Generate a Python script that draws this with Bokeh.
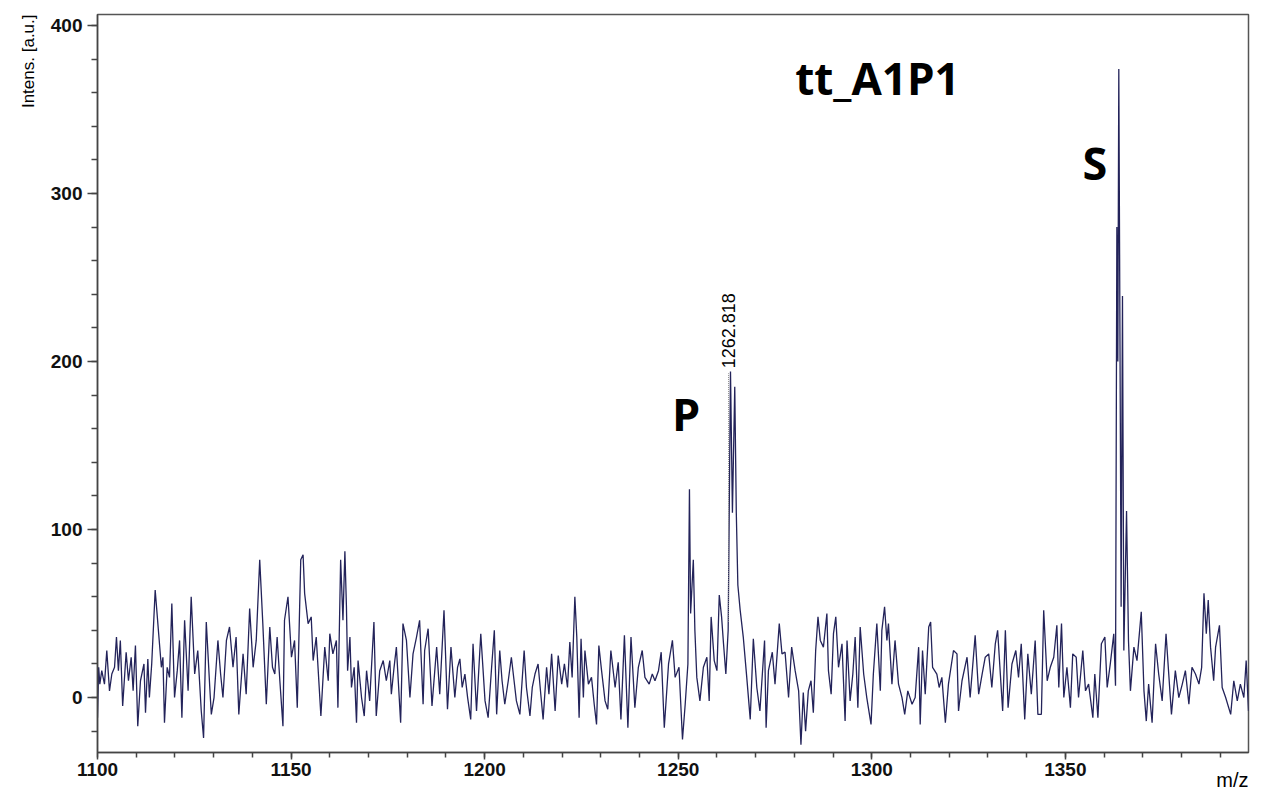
from bokeh.plotting import figure
from bokeh.models import Range1d, FixedTicker, Label, Title
from bokeh.embed import file_html
from bokeh.resources import INLINE
import math

# ---- data (m/z, intensity [a.u.]) ----
mz_a = [1100.0, 1100.3, 1100.6, 1101.1, 1101.8, 1102.4, 1103.1, 1103.7, 1104.4, 1104.9,
        1105.4, 1105.9, 1106.5, 1107.4, 1108.0, 1108.7, 1109.2, 1109.8, 1110.4, 1111.1,
        1112.0, 1112.4, 1113.0, 1113.4, 1114.0, 1114.9, 1115.8, 1116.5, 1116.9, 1117.3,
        1118.0, 1118.6, 1119.2, 1119.9, 1120.6, 1121.2, 1121.8, 1122.5, 1123.4, 1124.2,
        1125.1, 1125.9, 1126.8, 1127.4, 1128.1, 1129.0, 1129.4, 1130.1, 1131.1, 1131.8,
        1132.4, 1133.3, 1134.1, 1135.0, 1135.8, 1136.5, 1137.6, 1138.4, 1139.3, 1140.2,
        1141.0, 1141.9, 1142.7, 1143.6, 1144.5, 1145.2, 1145.8, 1146.4, 1147.1, 1147.9,
        1148.3, 1149.2, 1150.1, 1150.9, 1151.6, 1152.5, 1153.1, 1153.5, 1154.4, 1155.2,
        1155.7, 1156.5, 1157.7, 1158.7, 1159.6]
int_a = [-12, 18, 8, 16, 8, 28, 4, 14, 18, 36,
         16, 34, -5, 27, 10, 24, 4, 31, -17, 10,
         20, -9, 23, 0, 20, 64, 38, 18, 24, -15,
         18, 12, 56, 0, 16, 34, -12, 46, 4, 60,
         14, 28, -8, -24, 45, 6, -10, 0, 34, 14,
         0, 34, 42, 18, 36, -10, 26, 2, 53, 18,
         34, 82, 44, -4, 42, 18, 14, 36, 10, -17,
         46, 60, 24, 34, -6, 82, 85, 62, 44, 48,
         22, 36, -11, 30, 10]

mz_b = [1160.0, 1160.8, 1161.7, 1162.1, 1162.8, 1163.4, 1163.9, 1164.3, 1164.6, 1165.2,
        1165.6, 1166.3, 1166.9, 1167.3, 1168.2, 1168.9, 1169.5, 1170.3, 1171.4, 1172.0,
        1172.9, 1173.8, 1174.6, 1175.5, 1175.9, 1176.6, 1177.2, 1178.3, 1178.9, 1179.8,
        1180.7, 1181.5, 1182.4, 1183.2, 1184.1, 1184.5, 1185.4, 1186.4, 1187.6, 1188.4,
        1189.5, 1190.4, 1191.3, 1192.3, 1193.0, 1193.6, 1194.2, 1194.9, 1195.6, 1196.4,
        1197.0, 1197.9, 1199.0, 1200.1, 1200.9, 1201.8, 1202.5, 1203.1, 1203.9, 1204.5,
        1205.2, 1206.1, 1206.9, 1207.6, 1208.2, 1209.1, 1210.2, 1210.8, 1211.7, 1212.3,
        1213.0, 1213.8, 1214.5, 1215.1, 1216.0, 1216.6, 1217.3, 1218.2, 1219.0]
int_b = [38, 26, 34, -6, 82, 46, 87, 54, 16, 36,
         6, 18, -15, 22, 0, -11, 16, -2, 45, -11,
         16, 22, 10, 22, 2, 18, 30, -15, 44, 34,
         0, 26, 36, 46, -4, 28, 41, -5, 30, 2,
         52, -7, 30, 0, 18, 23, 6, 14, 0, -13,
         32, -8, 38, -2, -12, 18, 40, -10, 28, 10,
         -4, 10, 24, 10, -2, -10, 28, 6, -11, 6,
         14, 20, 2, -13, 18, 2, 26, -8, 25]

mz_c = [1219.9, 1220.6, 1221.4, 1222.0, 1222.6, 1223.3, 1223.8, 1224.4, 1224.9, 1225.5,
        1225.9, 1226.8, 1227.6, 1228.3, 1228.9, 1229.5, 1230.2, 1231.1, 1231.8, 1232.6,
        1233.7, 1234.5, 1235.2, 1236.1, 1237.0, 1237.8, 1238.8, 1239.7, 1240.7, 1241.4,
        1242.5, 1243.3, 1244.0, 1244.9, 1245.6, 1246.4, 1247.5, 1248.5, 1249.2, 1250.2,
        1251.1, 1251.8, 1252.5, 1252.9, 1253.2, 1253.9, 1254.3, 1254.8, 1255.6, 1256.5,
        1257.4, 1258.0, 1258.5, 1259.3, 1260.0, 1260.6, 1261.2, 1261.7, 1262.3, 1262.9,
        1263.5, 1264.0, 1264.6, 1265.0, 1265.4, 1266.0, 1266.8, 1267.7, 1268.6, 1269.4,
        1270.3, 1271.1, 1272.3, 1272.7, 1273.3, 1274.3, 1275.0, 1276.1, 1276.8, 1277.6,
        1278.5]
int_c = [8, 20, 6, 33, 12, 60, 36, -12, 35, 0,
         28, 8, 12, -4, -16, 31, 16, -2, -7, 28,
         6, 21, -13, 37, -18, 36, -6, 18, 28, 12,
         8, 14, 10, 16, 27, -18, 20, 34, 12, 18,
         -25, -4, 20, 124, 50, 82, 40, 12, -2, 18,
         24, -2, 48, 22, 16, 61, 48, 32, 14, 40,
         194, 110, 185, 110, 67, 52, 36, 12, -13, 35,
         6, -8, 34, -18, 16, 27, 8, 44, 26, 27,
         0]

mz_d = [1279.3, 1280.2, 1281.1, 1281.7, 1282.3, 1282.9, 1283.6, 1284.3, 1284.9, 1285.5,
        1286.1, 1286.7, 1287.5, 1288.4, 1288.8, 1289.5, 1290.1, 1290.7, 1291.4, 1292.3,
        1293.1, 1293.6, 1294.4, 1295.1, 1295.7, 1296.4, 1297.0, 1297.9, 1298.7, 1299.8,
        1300.4, 1301.3, 1302.2, 1302.6, 1303.3, 1303.9, 1304.3, 1305.2, 1306.0, 1306.9,
        1307.8, 1308.5, 1309.3, 1310.4, 1311.2, 1312.1, 1312.5, 1313.1, 1313.8, 1314.7,
        1315.2, 1315.7, 1316.8, 1317.4, 1318.1, 1319.0, 1319.8, 1321.1, 1322.0, 1322.4,
        1323.3, 1324.6, 1325.4, 1326.7, 1327.6, 1328.5, 1329.3, 1330.2, 1331.0, 1331.9,
        1332.5, 1333.2, 1333.8, 1334.5, 1335.2, 1336.2, 1337.2, 1337.9]
int_d = [30, 16, 4, -28, 3, -20, 4, 10, -9, 28,
         48, 34, 30, 50, 16, 2, 38, 48, 18, 32,
         -14, 34, -2, 14, 36, -6, 42, 14, 0, -16,
         14, 44, 4, 40, 54, 34, 44, 8, 34, 8,
         0, -10, 4, -4, 0, 30, -16, 28, 2, 42,
         45, 18, 14, 6, 12, -15, 8, 28, 26, -8,
         10, 24, 0, 37, 2, 14, 24, 26, 6, 32,
         40, 14, -8, 40, -6, 20, 28, 12]

mz_e = [1338.6, 1339.5, 1340.3, 1341.2, 1342.2, 1342.9, 1343.8, 1344.4, 1345.3, 1346.1,
        1347.0, 1347.8, 1348.3, 1349.0, 1349.6, 1350.4, 1351.3, 1351.9, 1352.8, 1353.4,
        1354.5, 1355.2, 1356.0, 1357.1, 1357.6, 1358.4, 1359.3, 1360.2, 1360.8, 1361.6,
        1362.5, 1362.95, 1363.3, 1363.55, 1363.8, 1364.4, 1364.75, 1365.1, 1365.8, 1366.3,
        1366.8, 1367.7, 1368.5, 1369.6, 1370.3, 1370.9, 1371.5, 1372.4, 1373.3, 1374.1,
        1375.0, 1376.0, 1376.7, 1377.4, 1378.4, 1379.3, 1380.2, 1381.0, 1381.9, 1382.7,
        1383.6, 1384.5, 1385.2, 1385.8, 1386.4, 1386.9, 1387.5, 1388.3, 1388.8, 1389.8,
        1390.5, 1391.4, 1392.7, 1393.5, 1394.4, 1395.2, 1396.1, 1396.7, 1397.3]
int_e = [32, -13, 26, 2, 34, -10, -10, 52, 10, 18,
         24, 43, 6, 44, 0, 18, -6, 26, 24, 0,
         28, 4, 8, -12, 14, -12, 32, 36, 6, 20,
         38, 7, 280, 200, 374, 54, 239, 28, 111, 34,
         4, 30, 22, 51, 4, -14, 8, -15, 32, 14,
         -2, 38, 14, -10, 16, 0, 8, 16, -4, 18,
         14, 8, 18, 62, 38, 58, 30, 10, 30, 43,
         6, 0, -10, 10, -2, 8, 0, 22, -8]

x_major = [1100, 1150, 1200, 1250, 1300, 1350]
y_major = [0, 100, 200, 300, 400]
peak_label = "1262.818"
peak_mz = 1263.0
peak_line = [45, 193]
title_text = "tt_A1P1"

mz = mz_a + mz_b + mz_c + mz_d + mz_e
inten = int_a + int_b + int_c + int_d + int_e

p = figure(width=1262, height=791, output_backend="svg", toolbar_location=None,
           x_range=Range1d(1100, 1397.3), y_range=Range1d(-32.7, 406.5),
           min_border_left=97, min_border_right=14, min_border_top=14, min_border_bottom=39)
p.background_fill_color = "white"
p.border_fill_color = "white"
p.grid.visible = False
p.outline_line_color = "#555555"
p.outline_line_width = 1.5

p.line(mz, inten, line_color="#23235a", line_width=1.3)
p.line([peak_mz, peak_mz], peak_line, line_color="#888888", line_width=1, line_dash="1 1")

for ax in (p.xaxis[0], p.yaxis[0]):
    ax.axis_line_color = "#444444"
    ax.axis_line_width = 1.5
    ax.major_tick_line_color = "#444444"
    ax.minor_tick_line_color = "#444444"
    ax.major_tick_line_width = 1.5
    ax.minor_tick_line_width = 1.5
    ax.major_tick_in = 0
    ax.minor_tick_in = 0
    ax.major_label_text_font = "Liberation Sans"
    ax.major_label_text_font_size = "19px"
    ax.major_label_text_font_style = "bold"
    ax.major_label_text_color = "#111111"

p.xaxis.ticker = FixedTicker(ticks=x_major, minor_ticks=list(range(1100, 1400, 10)))
p.yaxis.ticker = FixedTicker(ticks=y_major, minor_ticks=list(range(-20, 420, 20)))
p.xaxis.major_tick_out = 7
p.xaxis.minor_tick_out = 5
p.yaxis.major_tick_out = 10
p.yaxis.minor_tick_out = 6
p.xaxis.major_label_standoff = 3
p.yaxis.major_label_standoff = 5

# axis titles placed at the axis ends
p.add_layout(Title(text="Intens. [a.u.]", align="right", text_font="Liberation Sans",
                   text_font_size="17px", text_font_style="normal", text_color="black",
                   standoff=19), "left")
p.add_layout(Title(text="m/z", align="right", text_font="Liberation Sans",
                   text_font_size="20px", text_font_style="normal", text_color="black",
                   standoff=-24), "below")

# texts inside the frame
p.add_layout(Label(x=1280.2, y=369, text=title_text, text_align="left",
                   text_baseline="alphabetic", text_font="Open Sans", text_font_style="bold",
                   text_font_size="44px", text_color="black"))
p.add_layout(Label(x=1248.4, y=169, text="P", text_align="left", text_baseline="alphabetic",
                   text_font="Open Sans", text_font_style="bold", text_font_size="45px",
                   text_color="black"))
p.add_layout(Label(x=1354.4, y=318.5, text="S", text_align="left", text_baseline="alphabetic",
                   text_font="Open Sans", text_font_style="bold", text_font_size="45px",
                   text_color="black"))
p.add_layout(Label(x=peak_mz, y=196, text=peak_label, angle=math.pi / 2, text_align="left",
                   text_baseline="middle", text_font="Liberation Sans",
                   text_font_size="18px", text_color="black"))

open("out.html", "w").write(file_html(p, INLINE))
